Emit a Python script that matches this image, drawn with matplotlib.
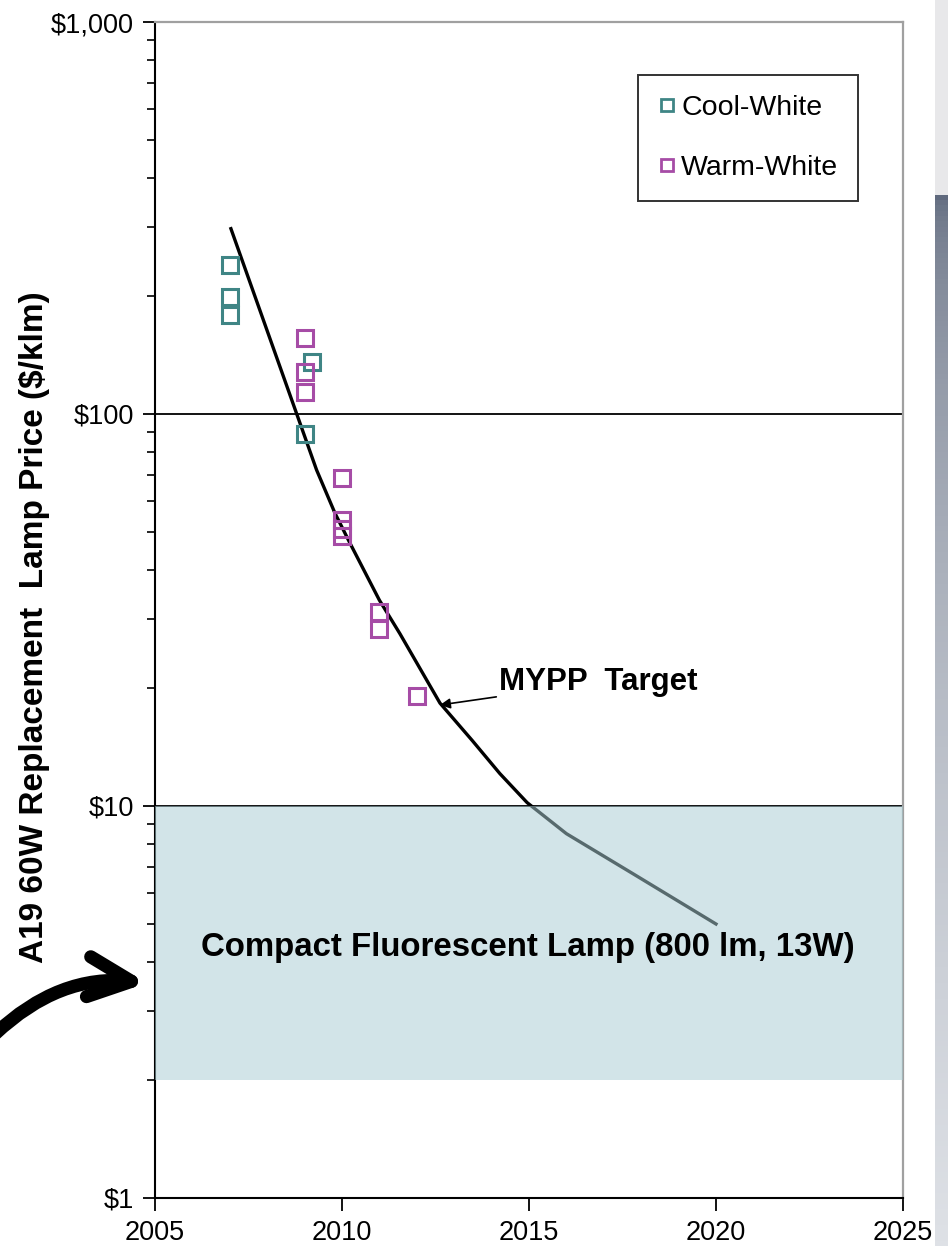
import numpy as np
import matplotlib.pyplot as plt
from matplotlib.patches import FancyArrowPatch
from matplotlib.lines import Line2D

plt.rcParams['font.family'] = ['Liberation Sans', 'DejaVu Sans']

# data
cool_year = [2007, 2007, 2007, 2009.2, 2009]
cool_price = [240, 199, 179, 136, 89]

warm_year = [2009, 2009, 2009, 2010, 2010, 2010, 2010, 2011, 2011, 2012]
warm_price = [156, 128, 114, 68.7, 53.7, 50.8, 48.7, 31.3, 28.3, 19.1]

target_year = [2007.03, 2008.79, 2009.32, 2009.81, 2010.21, 2011.0, 2011.55,
               2012.62, 2013.48, 2014.22, 2014.95, 2016.0, 2017.8, 2020]
target_price = [297, 100, 72, 55.9, 46.9, 33.5, 27.5,
                18.3, 14.7, 12.1, 10.2, 8.5, 6.7, 5.0]

cfl_low, cfl_high = 2, 10
yticks = [1, 10, 100, 1000]
ylabels = ['$1', '$10', '$100', '$1,000']
xticks = [2005, 2010, 2015, 2020, 2025]

W, H = 948, 1246
fig = plt.figure(figsize=(W / 100, H / 100), dpi=100)
ax = fig.add_axes([155 / W, 1 - 1198 / H, 748 / W, 1176 / H])

ax.set_yscale('log')
ax.set_xlim(2005, 2025)
ax.set_ylim(1, 1000)

# grid lines at $10 and $100
ax.axhline(100, color='black', lw=1.3, zorder=1)
ax.axhline(10, color='black', lw=1.3, zorder=1)

ax.plot(target_year, target_price, color='black', lw=2.4, zorder=2,
        solid_joinstyle='round')

# CFL band drawn over the line
ax.axhspan(cfl_low, cfl_high, color='#a9ccd3', alpha=0.52, lw=0, zorder=3)

teal = '#3f8585'
purple = '#a64ca6'
ax.plot(cool_year, cool_price, ls='none', marker='s', ms=11, mfc='none',
        mec=teal, mew=2.2, zorder=4)
ax.plot(warm_year, warm_price, ls='none', marker='s', ms=11, mfc='none',
        mec=purple, mew=2.2, zorder=4)

handles = [Line2D([], [], ls='none', marker='s', ms=9, mfc='none', mec=teal, mew=2),
           Line2D([], [], ls='none', marker='s', ms=9, mfc='none', mec=purple, mew=2)]
leg = ax.legend(handles, ['Cool-White', 'Warm-White'], loc='upper right',
                bbox_to_anchor=(0.94, 0.955), fontsize=20.5, frameon=True,
                fancybox=False, edgecolor='black', handlelength=0.6,
                handletextpad=0.2, labelspacing=1.2, borderpad=0.7,
                borderaxespad=0)
leg.get_frame().set_linewidth(1.4)

ax.annotate('MYPP  Target', xy=(2012.62, 18.1), xytext=(2014.2, 20.7),
            fontsize=22.5, fontweight='bold', va='center', ha='left',
            arrowprops=dict(arrowstyle='-|>', color='black', lw=1.2,
                            mutation_scale=15, shrinkA=0, shrinkB=0),
            zorder=5)
ax.text(2014.96, 4.35, 'Compact Fluorescent Lamp (800 lm, 13W)', fontsize=23.8,
        fontweight='bold', ha='center', va='center', zorder=5)

ax.set_yticks(yticks)
ax.set_yticklabels(ylabels)
ax.set_xticks(xticks)
ax.tick_params(axis='both', which='major', labelsize=19.5, length=9, width=1.3,
               direction='out')
ax.tick_params(axis='y', which='minor', length=6, width=1.2, direction='out')
ax.yaxis.set_minor_locator(plt.LogLocator(base=10, subs=np.arange(2, 10)))
ax.yaxis.set_minor_formatter(plt.NullFormatter())
ax.tick_params(axis='y', pad=6)
ax.tick_params(axis='x', pad=7)

ax.set_ylabel('A19 60W Replacement  Lamp Price ($/klm)', fontsize=24,
              fontweight='bold')
ax.yaxis.set_label_coords(-0.14, 0.485)

for s in ['left', 'bottom']:
    ax.spines[s].set_linewidth(1.5)
for s in ['top', 'right']:
    ax.spines[s].set_color('#a0a0a0')
    ax.spines[s].set_linewidth(1.6)

# curved pointer on the left
arrow = FancyArrowPatch((-0.05, (H - 1034) / 100), (1.47, (H - 983) / 100),
                        transform=fig.dpi_scale_trans,
                        connectionstyle='arc3,rad=-0.23',
                        arrowstyle='->,head_length=1.55,head_width=0.72',
                        mutation_scale=20, lw=9.5, color='black',
                        capstyle='round', joinstyle='round',
                        shrinkA=0, shrinkB=0)
fig.patches.append(arrow)

# side strip at the right edge of the screenshot
strip = fig.add_axes([935 / W, 0, 13 / W, 1 - 195 / H])
grad = np.sqrt(np.linspace(0, 1, 200)).reshape(-1, 1)
top_c = np.array([95, 105, 125]) / 255
bot_c = np.array([222, 225, 230]) / 255
img = top_c[None, None, :] * (1 - grad[:, :, None]) + bot_c[None, None, :] * grad[:, :, None]
strip.imshow(img, aspect='auto')
strip.axis('off')
top_strip = fig.add_axes([935 / W, 1 - 195 / H, 13 / W, 195 / H])
top_strip.set_facecolor('#e8e8ea')
top_strip.set_xticks([])
top_strip.set_yticks([])
for s in top_strip.spines.values():
    s.set_visible(False)

fig.savefig('out.png', dpi=100)
